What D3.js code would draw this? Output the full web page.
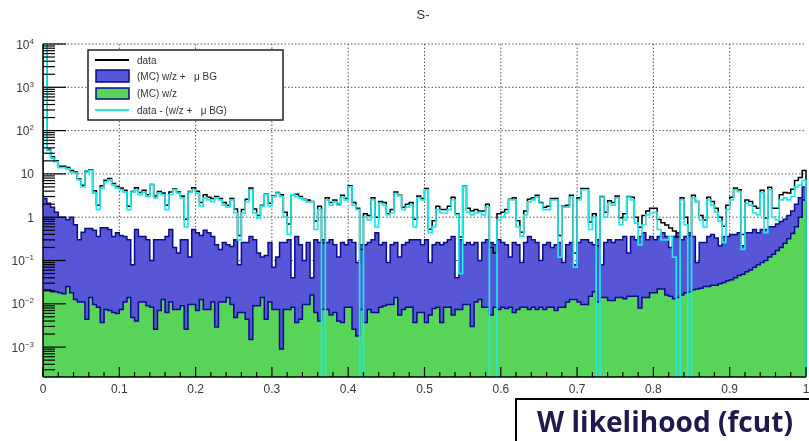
<!DOCTYPE html>
<html><head><meta charset="utf-8">
<script src="https://cdn.jsdelivr.net/npm/d3@7"></script>
<style>
html,body{margin:0;padding:0;background:#fff;}
svg{display:block;filter:blur(0.35px);}
</style></head><body>
<svg id="c" width="809" height="441"></svg>
<script>
// ---------------- data ----------------
const chartTitle = "S-";
const xAxisTitle = "W likelihood (fcut)";
const legendLabels = ["data", "(MC) w/z +   \u03bc BG", "(MC) w/z", "data - (w/z +   \u03bc BG)"];
const xRange = [0, 1];
const xTickValues = [0, 0.1, 0.2, 0.3, 0.4, 0.5, 0.6, 0.7, 0.8, 0.9, 1];
const xTickLabels = ["0", "0.1", "0.2", "0.3", "0.4", "0.5", "0.6", "0.7", "0.8", "0.9", "1"];
const yTickValues = [1e-3, 1e-2, 1e-1, 1, 10, 1e2, 1e3, 1e4];
const yTickBase = ["10", "10", "10", "1", "10", "10", "10", "10"];
const yTickExp = ["-3", "-2", "-1", "", "", "2", "3", "4"];
const yRange = [2.04e-4, 1e4];

// data (black line), 200 bins on [0,1]
const dataValues = [
 30000, 37, 25, 20, 15, 15, 14, 12, 11, 7.6,
 5.5, 11.5, 12.5, 4.1, 1.9, 5.3, 7.1, 7.8, 6.0, 5.1,
 4.7, 4.2, 1.8, 3.9, 4.8, 3.7, 4.2, 3.3, 5.7, 3.1,
 3.9, 3.6, 1.9, 3.8, 4.5, 3.8, 3.1, 0.9, 3.9, 4.8,
 4.0, 2.2, 3.3, 2.9, 2.7, 3.0, 2.7, 2.2, 1.9, 2.7,
 1.55, 0.38, 1.5, 2.6, 4.7, 1.55, 1.1, 1.9, 3.4, 2.1,
 3.1, 3.7, 3.3, 1.3, 0.7, 3.3, 3.4, 3.0, 2.6, 2.5,
 2.3, 0.82, 1.8, 0.25, 2.8, 2.2, 2.5, 2.0, 3.2, 2.7,
 5.3, 2.2, 1.6, 0.18, 1.2, 1.1, 2.8, 1.0, 2.3, 2.2,
 1.2, 1.5, 3.8, 3.2, 1.7, 2.0, 2.2, 0.9, 3.1, 2.7,
 4.6, 0.53, 0.83, 1.8, 1.5, 1.5, 1.8, 2.9, 1.2, 0.35,
 5.2, 1.6, 1.4, 1.5, 1.4, 1.4, 2.0, 0.2, 0.15, 1.2,
 1.3, 1.5, 2.6, 2.8, 0.83, 0.45, 1.4, 2.6, 2.8, 3.2,
 2.2, 1.7, 1.8, 2.7, 2.7, 0.38, 1.8, 1.9, 3.2, 0.15,
 2.8, 4.6, 4.6, 0.78, 1.2, 0.22, 3.0, 1.3, 2.4, 2.2,
 3.1, 0.97, 1.2, 3.0, 2.9, 1.0, 0.59, 1.1, 1.4, 1.6,
 1.6, 0.88, 0.74, 0.66, 0.56, 0.48, 0.35, 2.8, 1.0, 0.38,
 3.2, 2.3, 1.1, 0.86, 2.9, 2.3, 1.6, 1.0, 0.62, 1.9,
 2.9, 4.7, 4.3, 0.4, 2.5, 2.3, 1.8, 1.6, 4.2, 0.96,
 4.9, 1.6, 1.6, 3.3, 3.7, 3.6, 4.4, 7.0, 8.3, 12
];
// (MC) w/z + mu BG (blue fill)
const mcTotal = [
 2.7, 2.1, 1.7, 1.3, 1.0, 1.0, 0.87, 1.0, 0.67, 0.3,
 0.45, 0.55, 0.55, 0.5, 0.36, 0.57, 0.57, 0.52, 0.36, 0.44,
 0.38, 0.36, 0.3, 0.08, 0.52, 0.36, 0.36, 0.3, 0.1, 0.3,
 0.3, 0.3, 0.36, 0.52, 0.2, 0.15, 0.3, 0.3, 0.12, 0.52,
 0.44, 0.38, 0.5, 0.44, 0.36, 0.23, 0.18, 0.26, 0.23, 0.21,
 0.3, 0.08, 0.26, 0.26, 0.36, 0.3, 0.15, 0.12, 0.13, 0.26,
 0.07, 0.12, 0.26, 0.26, 0.3, 0.04, 0.36, 0.23, 0.1, 0.26,
 0.04, 0.3, 0.26, 0.3, 0.26, 0.3, 0.23, 0.12, 0.26, 0.23,
 0.3, 0.26, 0.09, 0.23, 0.23, 0.26, 0.3, 0.44, 0.23, 0.26,
 0.09, 0.23, 0.26, 0.12, 0.23, 0.26, 0.3, 0.3, 0.3, 0.23,
 0.3, 0.09, 0.23, 0.26, 0.23, 0.26, 0.3, 0.36, 0.04, 0.3,
 0.23, 0.26, 0.23, 0.26, 0.1, 0.26, 0.3, 0.26, 0.23, 0.3,
 0.26, 0.23, 0.12, 0.26, 0.23, 0.09, 0.26, 0.36, 0.3, 0.26,
 0.1, 0.23, 0.26, 0.2, 0.23, 0.26, 0.09, 0.23, 0.26, 0.08,
 0.26, 0.3, 0.3, 0.26, 0.23, 0.3, 0.08, 0.26, 0.3, 0.26,
 0.3, 0.3, 0.36, 0.15, 0.36, 0.3, 0.36, 0.44, 0.3, 0.36,
 0.3, 0.36, 0.44, 0.36, 0.2, 0.36, 0.44, 0.3, 0.36, 0.44,
 0.36, 0.09, 0.26, 0.26, 0.36, 0.4, 0.33, 0.22, 0.36, 0.36,
 0.4, 0.4, 0.44, 0.22, 0.44, 0.44, 0.52, 0.44, 0.52, 0.52,
 0.6, 0.6, 0.7, 0.8, 0.9, 1.1, 1.4, 2.0, 2.8, 5.0
];
// (MC) w/z (green fill)
const mcWZ = [
 0.021, 0.021, 0.019, 0.019, 0.018, 0.017, 0.025, 0.018, 0.0125, 0.011,
 0.011, 0.0044, 0.014, 0.0097, 0.0083, 0.0037, 0.0074, 0.007, 0.0063, 0.006,
 0.0074, 0.011, 0.014, 0.0048, 0.004, 0.011, 0.011, 0.009, 0.0083, 0.0026,
 0.007, 0.0125, 0.0063, 0.011, 0.0074, 0.0074, 0.009, 0.0026, 0.0097, 0.0097,
 0.007, 0.0125, 0.0074, 0.0074, 0.011, 0.0029, 0.011, 0.011, 0.014, 0.0097,
 0.0048, 0.0063, 0.0063, 0.0044, 0.0015, 0.009, 0.009, 0.014, 0.0044, 0.011,
 0.0074, 0.0074, 0.0009, 0.0074, 0.0074, 0.0083, 0.0037, 0.0044, 0.0097, 0.0097,
 0.016, 0.0063, 0.004, 0.0074, 0.0074, 0.0055, 0.0063, 0.004, 0.0037, 0.0083,
 0.0083, 0.0026, 0.0018, 0.0074, 0.0037, 0.0074, 0.0063, 0.0063, 0.0083, 0.009,
 0.0097, 0.0097, 0.014, 0.0055, 0.0074, 0.0083, 0.0083, 0.0037, 0.0063, 0.0063,
 0.0037, 0.0055, 0.0078, 0.0083, 0.0037, 0.0083, 0.0083, 0.0055, 0.0074, 0.0074,
 0.0097, 0.0097, 0.003, 0.011, 0.0125, 0.0083, 0.0083, 0.0055, 0.0083, 0.0074,
 0.0083, 0.0078, 0.0083, 0.0063, 0.0074, 0.0083, 0.0083, 0.0074, 0.0083, 0.0074,
 0.0083, 0.0074, 0.0083, 0.0083, 0.007, 0.0083, 0.0083, 0.011, 0.0125, 0.0125,
 0.011, 0.0097, 0.0097, 0.015, 0.019, 0.011, 0.014, 0.014, 0.012, 0.012,
 0.014, 0.014, 0.013, 0.015, 0.015, 0.015, 0.008, 0.014, 0.014, 0.018,
 0.018, 0.022, 0.022, 0.016, 0.015, 0.013, 0.014, 0.016, 0.018, 0.019,
 0.021, 0.022, 0.023, 0.025, 0.025, 0.027, 0.027, 0.029, 0.031, 0.034,
 0.036, 0.04, 0.045, 0.048, 0.055, 0.06, 0.07, 0.08, 0.09, 0.1,
 0.12, 0.14, 0.17, 0.2, 0.25, 0.32, 0.42, 0.6, 1.0, 2.5
];
// data - (w/z + mu BG) (cyan line); 0 = not positive
const dataMinusBG = [
 30000, 35, 23, 19, 14, 14, 13, 11, 10.5, 7.3,
 5, 11, 12, 3.6, 1.5, 4.7, 6.5, 7.3, 5.6, 4.7,
 4.3, 3.8, 1.5, 3.8, 4.3, 3.3, 3.8, 3.0, 5.6, 2.8,
 3.6, 3.3, 1.5, 3.3, 4.3, 3.6, 2.8, 0.6, 3.8, 4.3,
 3.6, 1.8, 2.8, 2.5, 2.3, 2.8, 2.5, 1.9, 1.7, 2.5,
 1.25, 0.3, 1.25, 2.3, 4.3, 1.25, 0.95, 1.8, 3.3, 1.8,
 3.0, 3.6, 3.0, 1.0, 0.4, 3.3, 3.0, 2.8, 2.5, 2.25,
 2.25, 0.52, 1.5, 0, 2.5, 1.9, 2.25, 1.9, 2.9, 2.5,
 5.0, 1.9, 1.5, 0, 1.0, 0.87, 2.5, 0.6, 2.1, 1.9,
 1.13, 1.25, 3.5, 3.1, 1.5, 1.7, 1.9, 0.6, 2.8, 2.5,
 4.3, 0.44, 0.6, 1.5, 1.25, 1.25, 1.5, 2.5, 1.13, 0.05,
 5.0, 1.3, 1.13, 1.25, 1.3, 1.13, 1.7, 0, 0, 0.87,
 1.0, 1.25, 2.5, 2.5, 0.6, 0.36, 1.13, 2.25, 2.5, 2.9,
 2.1, 1.5, 1.5, 2.5, 2.5, 0.12, 1.7, 1.7, 2.9, 0.07,
 2.5, 4.3, 4.3, 0.52, 1.0, 0, 2.9, 1.0, 2.1, 1.9,
 2.8, 0.67, 0.87, 2.9, 2.5, 0.73, 0.23, 0.67, 1.13, 1.25,
 1.3, 0.52, 0.3, 0.3, 0.36, 0.12, 0, 2.5, 0.67, 0,
 2.8, 2.25, 0.87, 0.6, 2.5, 1.9, 1.3, 0.8, 0.26, 1.5,
 2.5, 4.3, 3.9, 0.18, 2.1, 1.9, 1.25, 1.13, 3.7, 0.44,
 4.3, 1.0, 0.87, 2.5, 2.8, 2.5, 3.0, 5.0, 5.5, 7.0
];

// ---------------- drawing ----------------
const FONT = "'Liberation Sans', Arial, Helvetica, sans-serif";
const colBlue = "#5656d6", colNavy = "#0a0a8c", colGreen = "#58d458", colCyan = "#1fe8e8";
const svg = d3.select("#c");
svg.append("rect").attr("width", 809).attr("height", 441).attr("fill", "#fff");

const L = 43, R = 806, T = 44, B = 377;
const x = d3.scaleLinear().domain(xRange).range([L, R]);
const y = d3.scaleLog().domain(yRange).range([B, T]);
const nBins = dataValues.length;
const edge = i => x(xRange[0] + (xRange[1] - xRange[0]) * i / nBins);
const yv = v => (v > yRange[0]) ? Math.max(y(v), T - 4) : B + 3;
function stepPath(vals) {
  let p = `M${edge(0)},${B + 3}`;
  vals.forEach((v, i) => { const yy = yv(v); p += `L${edge(i)},${yy}L${edge(i + 1)},${yy}`; });
  return p + `L${edge(nBins)},${B + 3}`;
}

svg.append("defs").append("clipPath").attr("id", "plot")
  .append("rect").attr("x", L).attr("y", T).attr("width", R - L + 2).attr("height", B - T);

// grid
const grid = svg.append("g").attr("stroke", "#555").attr("stroke-width", 1).attr("stroke-dasharray", "1.5,2");
xTickValues.slice(1, -1).forEach(v => grid.append("line").attr("x1", x(v)).attr("x2", x(v)).attr("y1", T).attr("y2", B));
yTickValues.forEach(v => grid.append("line").attr("x1", L).attr("x2", R).attr("y1", y(v)).attr("y2", y(v)));

const plot = svg.append("g").attr("clip-path", "url(#plot)");
plot.append("path").attr("d", stepPath(mcTotal)).attr("fill", colBlue).attr("stroke", colNavy).attr("stroke-width", 1.5);
plot.append("path").attr("d", stepPath(mcWZ)).attr("fill", colGreen).attr("stroke", colNavy).attr("stroke-width", 1.5);
plot.append("path").attr("d", stepPath(dataValues)).attr("fill", "none").attr("stroke", "#000").attr("stroke-width", 1.5);
plot.append("path").attr("d", stepPath(dataMinusBG)).attr("fill", "none").attr("stroke", colCyan).attr("stroke-width", 1.7);

// axes
const ax = svg.append("g").attr("stroke", "#000");
ax.append("line").attr("x1", L).attr("x2", L).attr("y1", T).attr("y2", B).attr("stroke-width", 1.5);
ax.append("line").attr("x1", L).attr("x2", R).attr("y1", B).attr("y2", B).attr("stroke-width", 1.5);
for (let e = -4; e <= 4; e++) {
  for (let k = 1; k <= 9; k++) {
    const v = k * Math.pow(10, e);
    if (v < yRange[0] || v > yRange[1]) continue;
    const len = k === 1 ? 23 : 12;
    ax.append("line").attr("x1", L).attr("x2", L + len).attr("y1", y(v)).attr("y2", y(v)).attr("stroke-width", 1.2);
  }
}
for (let i = 0; i <= 50; i++) {
  const v = i / 50;
  const major = i % 5 === 0;
  ax.append("line").attr("x1", x(v)).attr("x2", x(v)).attr("y1", B).attr("y2", B - (major ? 10 : 5)).attr("stroke-width", 1.2);
}
// tick labels
const tl = svg.append("g").attr("fill", "#3a3a3a").style("font-family", FONT).style("font-size", "12px");
xTickValues.forEach((v, i) => tl.append("text").attr("x", x(v)).attr("y", 393).attr("text-anchor", "middle").text(xTickLabels[i]));
yTickValues.forEach((v, i) => {
  const t = tl.append("text").attr("x", 34).attr("y", y(v) + 4.5).attr("text-anchor", "end");
  t.append("tspan").text(yTickBase[i]);
  if (yTickExp[i]) t.append("tspan").style("font-size", "8px").attr("dy", -5).text(yTickExp[i].replace("-", "\u2212"));
});

// title
svg.append("text").attr("x", 423).attr("y", 19).attr("text-anchor", "middle").style("font-family", FONT).style("font-size", "13px").attr("fill", "#333").text(chartTitle);

// legend
const lg = svg.append("g");
lg.append("rect").attr("x", 88).attr("y", 50).attr("width", 195).attr("height", 70).attr("fill", "#fff").attr("stroke", "#222").attr("stroke-width", 1.5);
const rows = [60, 76, 93, 110];
lg.append("line").attr("x1", 95).attr("x2", 129).attr("y1", rows[0]).attr("y2", rows[0]).attr("stroke", "#000").attr("stroke-width", 2);
lg.append("rect").attr("x", 96).attr("y", 70).attr("width", 33).attr("height", 12).attr("fill", colBlue).attr("stroke", colNavy).attr("stroke-width", 1.5);
lg.append("rect").attr("x", 96).attr("y", 88).attr("width", 33).attr("height", 11).attr("fill", colGreen).attr("stroke", colNavy).attr("stroke-width", 1.5);
lg.append("line").attr("x1", 95).attr("x2", 129).attr("y1", rows[3]).attr("y2", rows[3]).attr("stroke", colCyan).attr("stroke-width", 2);
legendLabels.forEach((s, i) => lg.append("text").attr("x", 137).attr("y", rows[i] + 3.5)
  .style("font-family", FONT).style("font-size", "10px").attr("fill", "#333").style("white-space", "pre").text(s));

// x axis title box
svg.append("rect").attr("x", 516).attr("y", 399).attr("width", 300).attr("height", 60).attr("fill", "#fff").attr("stroke", "#000").attr("stroke-width", 2);
const xt = svg.append("text").attr("x", 665).attr("y", 432).attr("text-anchor", "middle")
  .style("font-family", "'Open Sans', 'DejaVu Sans', sans-serif").style("font-weight", "bold").style("font-size", "21px")
  .attr("fill", "#1b1b4d").text(xAxisTitle);
const w = xt.node().getComputedTextLength();
xt.style("font-size", (21 * 256 / w) + "px");
</script>
</body></html>
